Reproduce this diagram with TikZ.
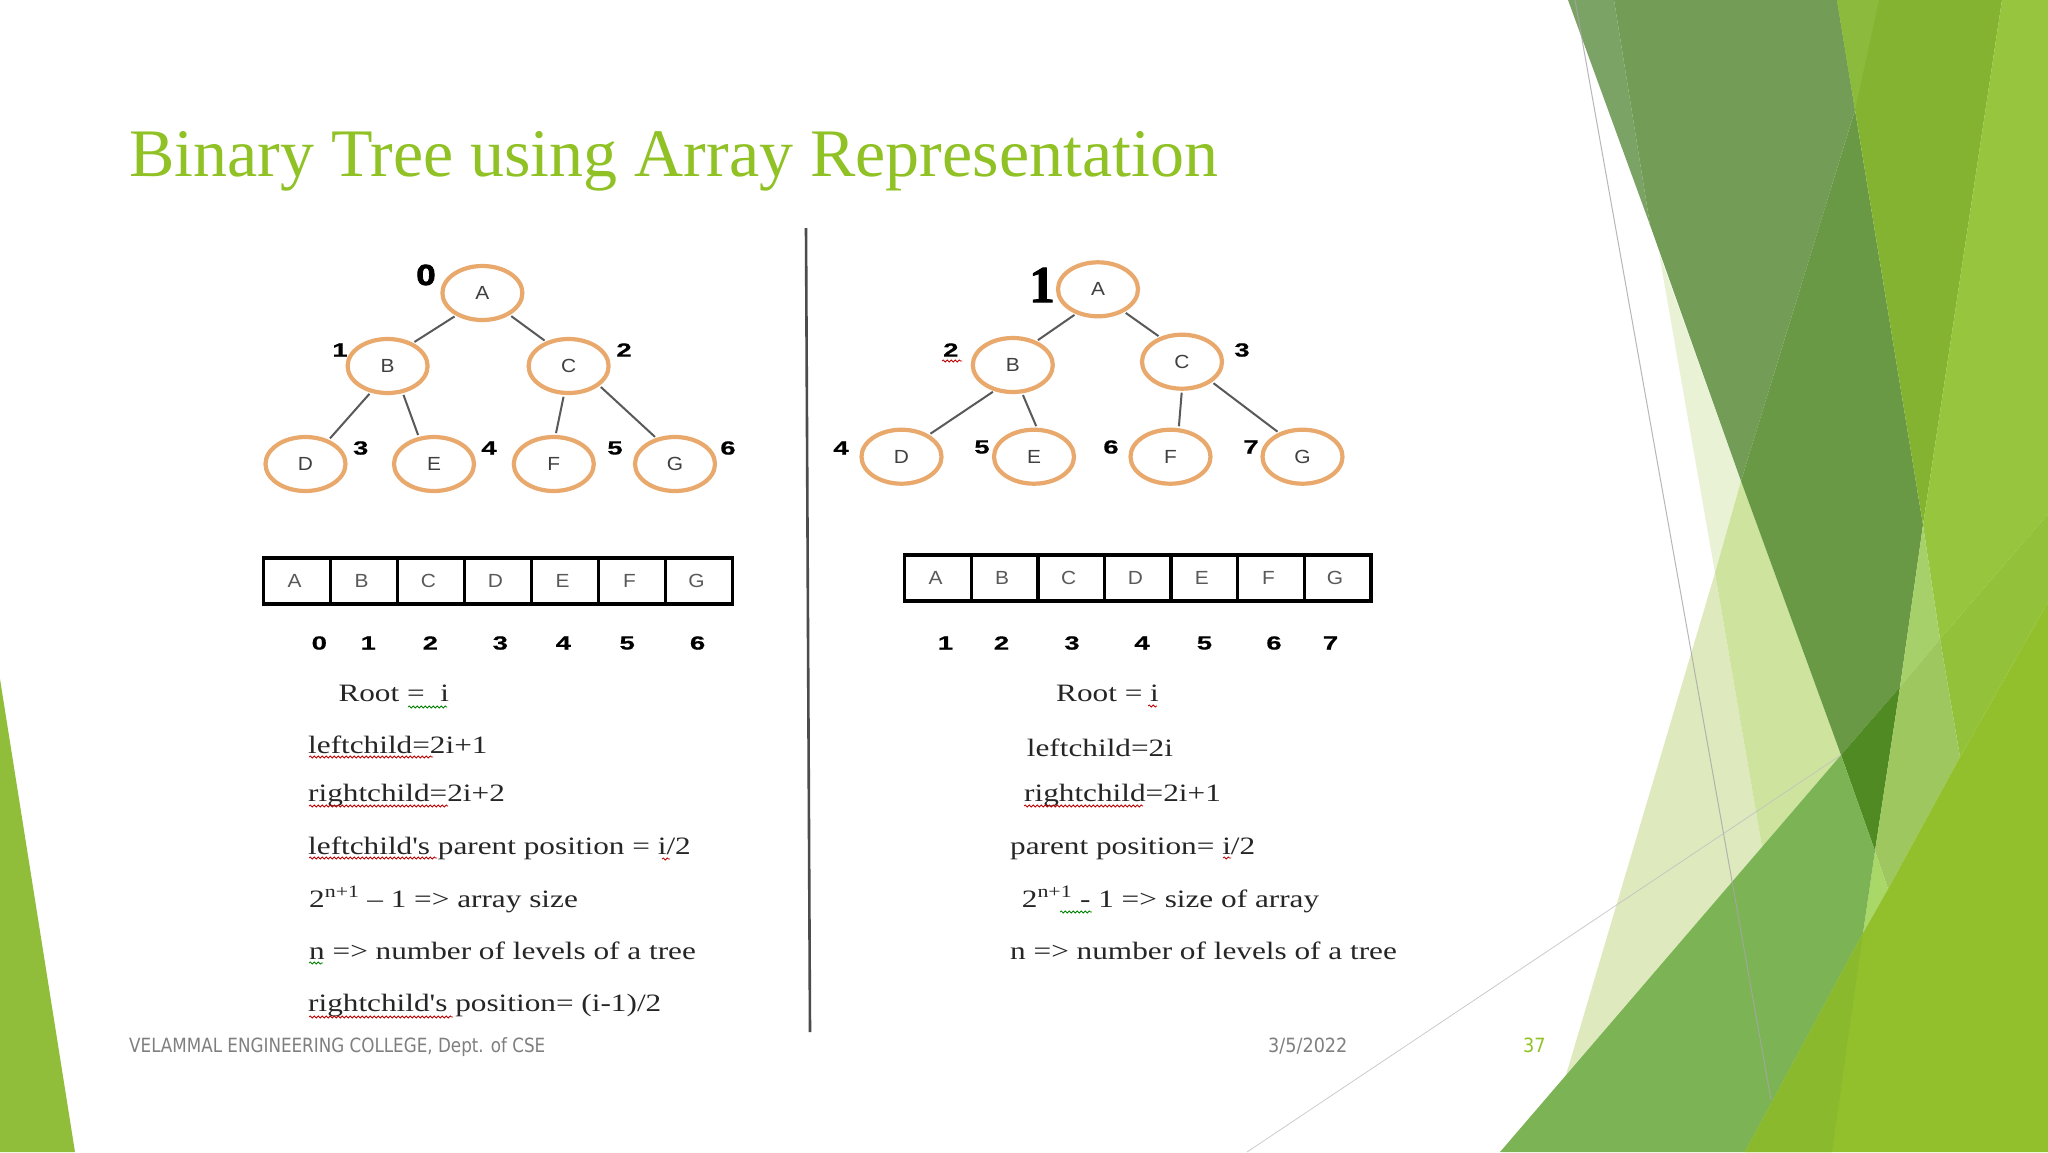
\documentclass[tikz,border=0pt]{standalone}
\usepackage{fontspec}
\usepackage{xcolor}
\usetikzlibrary{positioning,shapes.geometric,decorations.pathmorphing}
\setmainfont{Liberation Serif}
\newfontfamily\titlefont{Liberation Serif}
\newfontfamily\notefont[FakeStretch=1.25]{Liberation Serif}
\newfontfamily\letterfont[FakeStretch=1.1]{Liberation Sans}
\newfontfamily\numfont[FakeStretch=1.45,FakeBold=0.6]{Liberation Sans}
\newfontfamily\blotfont[FakeStretch=1.2,FakeBold=3]{Liberation Sans}
\newfontfamily\bigonefont[FakeBold=1.5]{Liberation Serif}
\newfontfamily\footfont[FakeStretch=0.9]{DejaVu Sans}
\newfontfamily\collegefont[FakeStretch=0.855]{DejaVu Sans}
\definecolor{titlegreen}{HTML}{90C226}
\definecolor{ringorange}{HTML}{E9A86C}
\definecolor{footgrey}{HTML}{7F7F7F}

\begin{document}
\begin{tikzpicture}[x=1pt,y=-1pt,
    treenode/.style={ellipse,draw=ringorange,line width=4.2pt,inner sep=0pt,outer sep=0pt,minimum width=80pt,minimum height=54pt,text=black!75,font=\letterfont\fontsize{19}{19}\selectfont},
    treeedge/.style={draw=black!65,line width=2pt,shorten >=4pt,shorten <=4pt},
    indexnum/.style={inner sep=0pt,text=black,font=\numfont\bfseries\fontsize{19}{19}\selectfont},
    cellbox/.style={rectangle,draw=black,line width=3.4pt,inner sep=0pt,outer sep=0pt,minimum width=67pt,minimum height=46pt,text=black!65,font=\letterfont\fontsize{19}{19}\selectfont,execute at begin node={\hspace*{-5pt}}},
    noteline/.style={anchor=base west,inner sep=0pt,text=black!85,font=\notefont\fontsize{25}{25}\selectfont},
    footnode/.style={anchor=base west,inner sep=0pt,text=footgrey,font=\footfont\fontsize{19.6}{20}\selectfont},
    redwave/.style={draw=red!75!black,line width=0.8pt,decorate,decoration={snake,amplitude=1pt,segment length=4pt}},
    greenwave/.style={draw=green!50!black,line width=0.8pt,decorate,decoration={snake,amplitude=1pt,segment length=4pt}}]

    \useasboundingbox (0,0) rectangle (2048,1152);
    \fill[white] (0,0) rectangle (2048,1152);

    \fill[fill={rgb,255:red,144;green,190;blue,58}] (0,679) -- (75,1152) -- (0,1152) -- cycle;

    \fill[fill={rgb,255:red,233;green,242;blue,213}] (1659,253) -- (1741,481) -- (1715,573) -- cycle;
    \fill[fill={rgb,255:red,223;green,233;blue,190}] (1566,1075) -- (1715,573) -- (1762,847) -- cycle;
    \fill[fill={rgb,255:red,206;green,228;blue,158}] (1715,573) -- (1741,481) -- (1841,755) -- (1762,847) -- cycle;

    \fill[fill={rgb,255:red,123;green,163;blue,101}] (1568,0) -- (1614,0) -- (1650,225) -- cycle;
    \fill[fill={rgb,255:red,115;green,157;blue,86}] (1614,0) -- (1837,0) -- (1855,110) -- (1741,481) -- (1650,225) -- cycle;
    \fill[fill={rgb,255:red,106;green,153;blue,69}] (1855,110) -- (1923,525) -- (1900,687) -- (1841,755) -- (1741,481) -- cycle;
    \fill[fill={rgb,255:red,79;green,138;blue,35}] (1841,755) -- (1900,687) -- (1875,851) -- cycle;

    \fill[fill={rgb,255:red,132;green,179;blue,50}] (1837,0) -- (2002,0) -- (1923,525) -- cycle;
    \fill[fill={rgb,255:red,139;green,186;blue,60}] (1837,0) -- (1879,0) -- (1855,110) -- cycle;
    \fill[fill={rgb,255:red,151;green,197;blue,61}] (2002,0) -- (2048,0) -- (2048,514) -- (1940,639) -- (1923,525) -- cycle;
    \fill[fill={rgb,255:red,148;green,193;blue,58}] (1940,639) -- (2048,514) -- (2048,602) -- (1960,757) -- cycle;

    \fill[fill={rgb,255:red,166;green,208;blue,106}] (1923,525) -- (1940,639) -- (1900,687) -- cycle;
    \fill[fill={rgb,255:red,159;green,199;blue,95}] (1900,687) -- (1940,639) -- (1960,757) -- (1888,889) -- (1875,851) -- cycle;
    \fill[fill={rgb,255:red,169;green,216;blue,104}] (1875,851) -- (1888,889) -- (1863,933) -- cycle;

    \fill[fill={rgb,255:red,124;green,179;blue,84}] (1500,1152) -- (1841,755) -- (1875,851) -- (1863,933) -- (1745,1152) -- cycle;
    \fill[fill={rgb,255:red,146;green,192;blue,44}] (1745,1152) -- (1863,933) -- (1888,889) -- (1960,757) -- (2048,602) -- (2048,1152) -- cycle;
    \fill[fill={rgb,255:red,138;green,185;blue,45}] (1745,1152) -- (1863,933) -- (1832,1152) -- cycle;

    \draw[black!35,line width=1pt,opacity=.8] (1575,0) -- (1771,1100);
    \draw[black!25,line width=.8pt,opacity=.8] (1247,1152) -- (1841,755);

    \node[anchor=base west,inner sep=0pt,text=titlegreen,font=\titlefont\fontsize{68}{68}\selectfont] (title) at (129,176) {Binary Tree using Array Representation};

    \coordinate (divtop) at (806,228);
    \coordinate (divbot) at (810,1032);
    \draw[black!70,line width=2.6pt] (divtop) -- (divbot);

    \node[treenode] (la) at (482.4,293) {A};
    \node[treenode] (lb) at (387.6,366) {B};
    \node[treenode] (lc) at (568.6,366) {C};
    \node[treenode] (ld) at (305.5,464) {D};
    \node[treenode] (le) at (434,464) {E};
    \node[treenode] (lf) at (553.8,464) {F};
    \node[treenode] (lg) at (675,464) {G};

    \path[treeedge]
        (la.221) edge (lb.43)
        (la.-39) edge (lc.132)
        (lb.238) edge (ld.46)
        (lb.-60) edge (le.120)
        (lc.261) edge (lf.87)
        (lc.-32) edge (lg.125)
    ;

    \node[indexnum,font=\blotfont\bfseries\fontsize{29}{29}\selectfont] (ln0) at (426,275) {0};
    \node[indexnum] (ln1) at (340,350) {1};
    \node[indexnum] (ln2) at (624,350) {2};
    \node[indexnum] (ln3) at (360.7,448) {3};
    \node[indexnum] (ln4) at (489,448) {4};
    \node[indexnum] (ln5) at (615,448) {5};
    \node[indexnum] (ln6) at (728,448) {6};

    \node[cellbox] (lc0) at (297,581) {A};
    \node[cellbox] (lc1) [right=0pt of lc0] {B};
    \node[cellbox] (lc2) [right=0pt of lc1] {C};
    \node[cellbox] (lc3) [right=0pt of lc2] {D};
    \node[cellbox] (lc4) [right=0pt of lc3] {E};
    \node[cellbox] (lc5) [right=0pt of lc4] {F};
    \node[cellbox] (lc6) [right=0pt of lc5] {G};

    \node[indexnum] (lp0) at (319.3,643) {0};
    \node[indexnum] (lp1) at (368.3,643) {1};
    \node[indexnum] (lp2) at (430.3,643) {2};
    \node[indexnum] (lp3) at (500.3,643) {3};
    \node[indexnum] (lp4) at (563.4,643) {4};
    \node[indexnum] (lp5) at (627.2,643) {5};
    \node[indexnum] (lp6) at (697.6,643) {6};

    \node[noteline] (lt1) at (338.3,701.7) {Root = \ i};
    \node[noteline] (lt2) at (308,753) {leftchild=2i+1};
    \node[noteline] (lt3) at (308,801.7) {rightchild=2i+2};
    \node[noteline] (lt4) at (308,854) {leftchild's parent position = i/2};
    \node[noteline] (lt5) at (309,907) {2\textsuperscript{n+1} – 1 => array size};
    \node[noteline] (lt6) at (309,959) {n => number of levels of a tree};
    \node[noteline] (lt7) at (308,1011.7) {rightchild's position= (i-1)/2};

    \draw[greenwave] (408,707) -- (447,707);
    \draw[redwave] (309,757) -- (433,757);
    \draw[redwave] (309,806) -- (448,806);
    \draw[redwave] (309,858) -- (437,858);
    \draw[redwave] (662,859) -- (670,859);
    \draw[greenwave] (309,963) -- (323,963);
    \draw[redwave] (309,1017) -- (453,1017);

    \node[treenode] (ra) at (1098,289.3) {A};
    \node[treenode] (rb) at (1012.8,365) {B};
    \node[treenode] (rc) at (1182,361.7) {C};
    \node[treenode] (rd) at (901.5,456.7) {D};
    \node[treenode] (re) at (1034,456.7) {E};
    \node[treenode] (rf) at (1170.5,456.7) {F};
    \node[treenode] (rg) at (1302.5,456.7) {G};

    \path[treeedge]
        (ra.229) edge (rb.46)
        (ra.-41) edge (rc.131)
        (rb.236) edge (rd.39)
        (rb.-72) edge (re.82)
        (rc.-90) edge (rf.73)
        (rc.-34) edge (rg.134)
    ;

    \node[inner sep=0pt,font=\bigonefont\bfseries\fontsize{52}{52}\selectfont] (rn1) at (1042,285) {1};
    \node[indexnum] (rn2) at (950.8,350) {2};
    \node[indexnum] (rn3) at (1242,350) {3};
    \node[indexnum] (rn4) at (841,448) {4};
    \node[indexnum] (rn5) at (982,447) {5};
    \node[indexnum] (rn6) at (1111,447) {6};
    \node[indexnum] (rn7) at (1251,447) {7};
    \draw[redwave] (942,361) -- (962,361);

    \node[cellbox,minimum width=66.6pt] (rc0) at (938,578) {A};
    \node[cellbox,minimum width=66.6pt] (rc1) [right=0pt of rc0] {B};
    \node[cellbox,minimum width=66.6pt] (rc2) [right=0pt of rc1] {C};
    \node[cellbox,minimum width=66.6pt] (rc3) [right=0pt of rc2] {D};
    \node[cellbox,minimum width=66.6pt] (rc4) [right=0pt of rc3] {E};
    \node[cellbox,minimum width=66.6pt] (rc5) [right=0pt of rc4] {F};
    \node[cellbox,minimum width=66.6pt] (rc6) [right=0pt of rc5] {G};

    \node[indexnum] (rp1) at (945.4,643) {1};
    \node[indexnum] (rp2) at (1001.5,643) {2};
    \node[indexnum] (rp3) at (1072,643) {3};
    \node[indexnum] (rp4) at (1142,643) {4};
    \node[indexnum] (rp5) at (1204.5,643) {5};
    \node[indexnum] (rp6) at (1274,643) {6};
    \node[indexnum] (rp7) at (1330.5,643) {7};

    \node[noteline] (rt1) at (1056,701.7) {Root = i};
    \node[noteline] (rt2) at (1026.7,756.7) {leftchild=2i};
    \node[noteline] (rt3) at (1024,801.7) {rightchild=2i+1};
    \node[noteline] (rt4) at (1010,854) {parent position= i/2};
    \node[noteline] (rt5) at (1021.7,907) {2\textsuperscript{n+1} - 1 => size of array};
    \node[noteline] (rt6) at (1010,959) {n => number of levels of a tree};

    \draw[redwave] (1148,706) -- (1157,706);
    \draw[redwave] (1024,806) -- (1143,806);
    \draw[redwave] (1223,858) -- (1231,858);
    \draw[greenwave] (1060,912) -- (1092,912);

    \node[footnode,font=\collegefont\fontsize{19.6}{20}\selectfont] (college) at (129,1052) {VELAMMAL ENGINEERING COLLEGE, Dept. of CSE};
    \node[footnode] (date) at (1268,1052) {3/5/2022};
    \node[footnode,text=titlegreen] (page) at (1523,1052) {37};
\end{tikzpicture}
\end{document}
